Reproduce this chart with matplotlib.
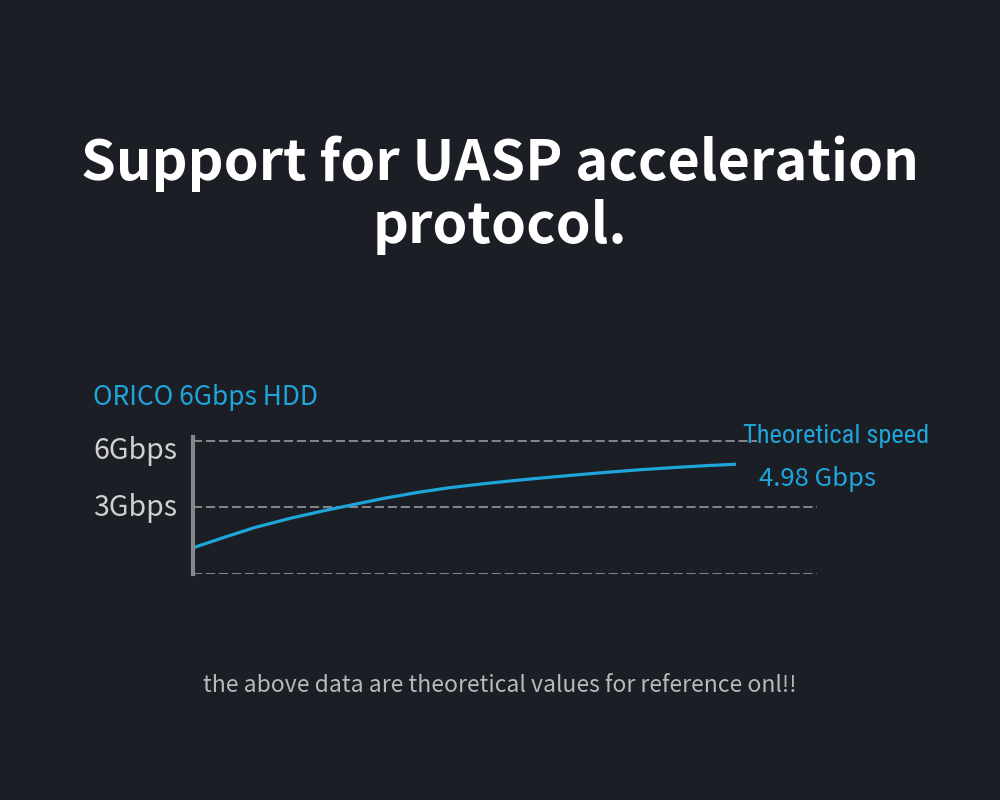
import matplotlib.pyplot as plt
from matplotlib import font_manager
from matplotlib.transforms import ScaledTranslation

# speed curve (x is an arbitrary progress scale 0..100)
progress = [0, 5, 10, 15.5, 21, 26, 30.5, 36, 41, 46.5, 52, 57, 61, 66, 71.5, 77, 82.5, 87]
speed = [1.18, 1.65, 2.1, 2.5, 2.85, 3.14, 3.4, 3.67, 3.88, 4.06, 4.22, 4.35, 4.45, 4.57, 4.69, 4.79, 4.88, 4.94]
tick_vals = [3, 6]
tick_labels = ["3Gbps", "6Gbps"]

BG = "#1c1e25"
BLUE = "#1ea5d9"
GRID = "#a2a4a8"

names = {f.name for f in font_manager.fontManager.ttflist}
narrow = [n for n in ["Roboto Condensed", "Liberation Sans Narrow", "DejaVu Sans Condensed"] if n in names]
narrow = narrow[0] if narrow else "Roboto"
main_font = ["Noto Sans CJK SC", "Noto Sans", "DejaVu Sans"]

fig = plt.figure(figsize=(10, 8), dpi=100, facecolor=BG)

ax = fig.add_axes([0.193, 1 - 574 / 800, 0.624, 6.15 * 22.22 / 800])
ax.set_facecolor(BG)
ax.set_xlim(0, 100)
ax.set_ylim(0, 6.15)
ax.plot(progress, speed, color=BLUE, lw=2.3, solid_capstyle="butt")

for v, xm in [(0, 1.0), (3, 1.0), (6, 0.904)]:
    ax.axhline(v, xmin=0, xmax=xm, color=GRID, lw=1.1, ls=(0, (6, 2.5)), zorder=0)

for s in ["top", "right", "bottom"]:
    ax.spines[s].set_visible(False)
ax.spines["left"].set_color("#85878b")
ax.spines["left"].set_linewidth(3)
ax.set_xticks([])
ax.set_yticks(tick_vals)
ax.set_yticklabels(tick_labels, fontsize=20.5, color="#d0d0d0", family=main_font, fontweight="light")
ax.tick_params(axis="y", length=0, pad=11.5)
# labels sit a little off their grid lines in the original
for lab, dy in zip(ax.get_yticklabels(), [3, -7]):
    lab.set_transform(lab.get_transform() + ScaledTranslation(0, dy / 100, fig.dpi_scale_trans))

fig.text(0.5, 1 - 180 / 800, "Support for UASP acceleration", ha="center", va="baseline",
         color="white", fontsize=40.3, fontweight="bold", family=main_font)
fig.text(0.5, 1 - 243 / 800, "protocol.", ha="center", va="baseline",
         color="white", fontsize=40.3, fontweight="bold", family=main_font)
fig.text(0.093, 1 - 405 / 800, "ORICO 6Gbps HDD", ha="left", va="baseline",
         color=BLUE, fontsize=19, family=main_font, fontweight="light")
fig.text(0.743, 1 - 443 / 800, "Theoretical speed", ha="left", va="baseline",
         color=BLUE, fontsize=19, family=narrow)
fig.text(0.759, 1 - 486 / 800, "4.98 Gbps", ha="left", va="baseline",
         color=BLUE, fontsize=18.5, family=main_font, fontweight="light")
fig.text(0.5, 1 - 692 / 800, "the above data are theoretical values for reference onl!!", ha="center",
         va="baseline", color="#b8b9bb", fontsize=16.5, family=main_font, fontweight="light")

fig.savefig("out.png", dpi=100, facecolor=BG)
